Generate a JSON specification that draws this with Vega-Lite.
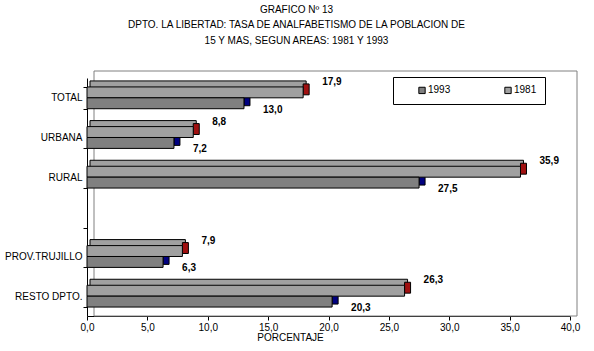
{
  "$schema": "https://vega.github.io/schema/vega-lite/v6.json",
  "width": 483,
  "height": 238,
  "autosize": {"type": "none"},
  "padding": {"left": 87, "top": 78, "right": 24, "bottom": 35},
  "background": "white",
  "config": {
    "locale": {"number": {"decimal": ",", "thousands": ".", "grouping": [3], "currency": ["", ""]}},
    "font": "Liberation Sans",
    "view": {"stroke": null}
  },
  "title": {
    "text": ["GRAFICO Nº 13", "DPTO. LA LIBERTAD: TASA DE ANALFABETISMO DE LA POBLACION DE", "15 Y MAS, SEGUN AREAS: 1981 Y 1993"],
    "fontSize": 10,
    "fontWeight": "normal",
    "lineHeight": 15.5,
    "anchor": "middle",
    "dx": -32,
    "offset": 25,
    "color": "black",
    "font": "Liberation Sans"
  },
  "data": {
    "values": [
      {"area": "TOTAL", "year": "1981", "value": 17.9},
      {"area": "TOTAL", "year": "1993", "value": 13.0},
      {"area": "URBANA", "year": "1981", "value": 8.8},
      {"area": "URBANA", "year": "1993", "value": 7.2},
      {"area": "RURAL", "year": "1981", "value": 35.9},
      {"area": "RURAL", "year": "1993", "value": 27.5},
      {"area": "PROV.TRUJILLO", "year": "1981", "value": 7.9},
      {"area": "PROV.TRUJILLO", "year": "1993", "value": 6.3},
      {"area": "RESTO DPTO.", "year": "1981", "value": 26.3},
      {"area": "RESTO DPTO.", "year": "1993", "value": 20.3}
    ]
  },
  "resolve": {"scale": {"yOffset": "independent"}},
  "layer": [
    {
      "data": {"values": [{}]},
      "mark": {"type": "rect", "fill": null, "stroke": "#808080", "strokeWidth": 1, "xOffset": 7, "x2Offset": 7, "yOffset": -7, "y2Offset": -7},
      "encoding": {
        "x": {"datum": 0, "type": "quantitative"},
        "x2": {"datum": 40}
      }
    },
    {
      "mark": {"type": "bar", "stroke": "black", "strokeWidth": 1, "xOffset": 3, "x2Offset": 3},
      "encoding": {
        "y": {"field": "area", "type": "nominal"},
        "yOffset": {"field": "year", "type": "nominal", "scale": {"domain": ["1981", "1993"], "paddingInner": 0, "paddingOuter": 0, "range": [-6, 15.8]}},
        "x": {"field": "value", "type": "quantitative"},
        "color": {"field": "year", "type": "nominal"}
      }
    },
    {
      "mark": {"type": "bar", "stroke": "black", "strokeWidth": 1, "x2Offset": 6},
      "encoding": {
        "y": {"field": "area", "type": "nominal"},
        "yOffset": {"field": "year", "type": "nominal", "scale": {"domain": ["1981", "1993"], "paddingInner": 0, "paddingOuter": 0, "range": [-3, 18.8]}},
        "x": {"field": "value", "type": "quantitative"},
        "x2": {"field": "value"},
        "color": {"condition": {"test": "datum.year === '1981'", "value": "#a01010"}, "value": "#000080"}
      }
    },
    {
      "mark": {"type": "bar", "stroke": "black", "strokeWidth": 1},
      "encoding": {
        "y": {
          "field": "area",
          "type": "nominal",
          "scale": {"domain": ["TOTAL", "URBANA", "RURAL", " ", "PROV.TRUJILLO", "RESTO DPTO."], "paddingInner": 0.45, "paddingOuter": 0.225},
          "axis": {"title": null, "tickBand": "extent", "domainColor": "black", "tickColor": "black", "tickSize": 4, "labelFontSize": 10, "labelPadding": 1, "labelColor": "black", "labelFont": "Liberation Sans"}
        },
        "yOffset": {"field": "year", "type": "nominal", "scale": {"domain": ["1981", "1993"], "paddingInner": 0, "paddingOuter": 0, "range": [0, 21.8]}},
        "x": {
          "field": "value",
          "type": "quantitative",
          "scale": {"domain": [0, 40]},
          "axis": {"values": [0, 5, 10, 15, 20, 25, 30, 35, 40], "format": ".1f", "grid": false, "domainColor": "black", "tickColor": "black", "tickSize": 4, "labelFontSize": 10, "labelColor": "black", "labelPadding": 2, "labelFlush": false, "title": "PORCENTAJE", "titleFontWeight": "normal", "titleFontSize": 10, "titleColor": "black", "titlePadding": 0, "titleX": 203, "titleFont": "Liberation Sans", "labelFont": "Liberation Sans"}
        },
        "color": {
          "field": "year",
          "type": "nominal",
          "scale": {"domain": ["1993", "1981"], "range": ["#808080", "#a0a0a0"]},
          "legend": {"orient": "none", "legendX": 306, "legendY": -1, "direction": "horizontal", "title": null, "fillColor": "white", "strokeColor": "black", "padding": 8, "columnPadding": 36, "symbolType": "square", "symbolSize": 40, "symbolStrokeColor": "black", "symbolStrokeWidth": 1, "labelFontSize": 10, "labelColor": "black", "symbolOffset": 16, "labelOffset": 1, "labelExpr": "datum.label + '\u00a0\u00a0\u00a0\u00a0\u00a0\u00a0'"}
        }
      }
    },
    {
      "transform": [{"filter": "datum.year === '1981'"}],
      "mark": {"type": "text", "align": "left", "dx": 19, "dy": -5, "fontWeight": "bold", "fontSize": 10, "color": "black"},
      "encoding": {
        "y": {"field": "area", "type": "nominal"},
        "yOffset": {"field": "year", "type": "nominal", "scale": {"domain": ["1981", "1993"], "paddingInner": 0, "paddingOuter": 0, "range": [0, 21.8]}},
        "x": {"field": "value", "type": "quantitative"},
        "text": {"field": "value", "type": "quantitative", "format": ".1f"}
      }
    },
    {
      "transform": [{"filter": "datum.year === '1993'"}],
      "mark": {"type": "text", "align": "left", "dx": 19, "dy": 1, "fontWeight": "bold", "fontSize": 10, "color": "black"},
      "encoding": {
        "y": {"field": "area", "type": "nominal"},
        "yOffset": {"field": "year", "type": "nominal", "scale": {"domain": ["1981", "1993"], "paddingInner": 0, "paddingOuter": 0, "range": [0, 21.8]}},
        "x": {"field": "value", "type": "quantitative"},
        "text": {"field": "value", "type": "quantitative", "format": ".1f"}
      }
    }
  ]
}
